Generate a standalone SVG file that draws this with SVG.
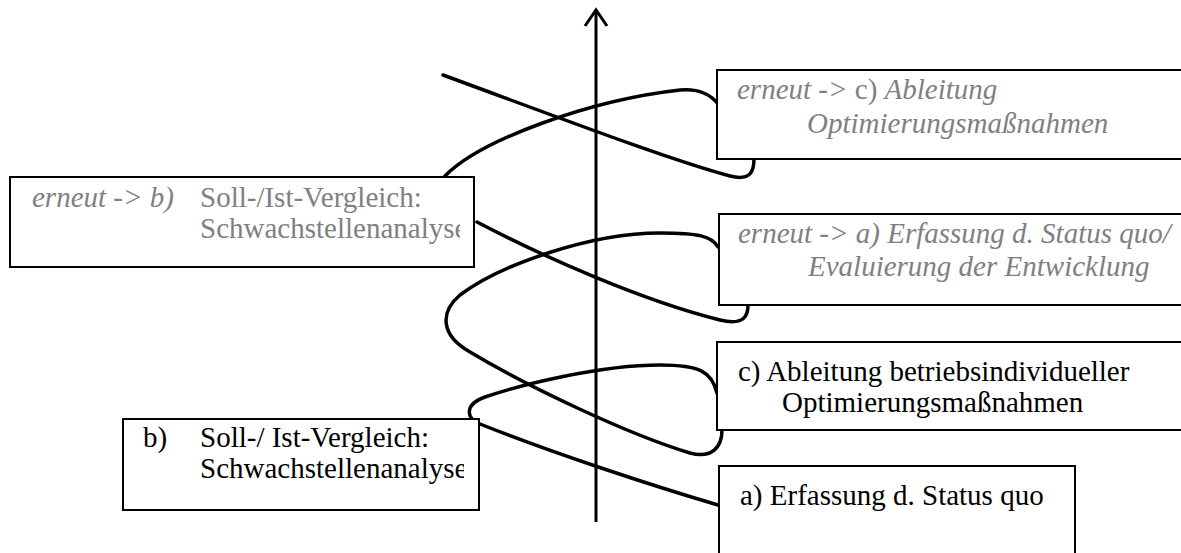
<svg xmlns="http://www.w3.org/2000/svg" width="1181" height="553" viewBox="0 0 1181 553">
<style>
.box{fill:#fff;stroke:#000;stroke-width:2}
.c{fill:none;stroke:#000;stroke-width:3.5;stroke-linecap:round;stroke-linejoin:round}
.ax{fill:none;stroke:#000;stroke-width:3}
text{font-family:"Liberation Serif","Times New Roman",serif;font-size:29px}
.g{fill:#808080}
.k{fill:#000}
.i{font-style:italic}
</style>
<defs>
<clipPath id="clipB2"><rect x="10" y="177" width="450" height="90"/></clipPath>
<clipPath id="clipB5"><rect x="123" y="419" width="341" height="91"/></clipPath>
</defs>
<g id="connectors">
<line class="ax" x1="596" y1="522" x2="596" y2="10"/>
<polyline class="ax" points="585,26 596,10 607,26"/>
<path class="c" d="M443,75 C560,118 670,160 730,176 C750,181 754,172 754,159"/>
<path class="c" d="M445,176 C480,140 590,100 680,90 C700,88 712,96 718,104"/>
<path class="c" d="M477,222 C540,255 640,300 720,320 C745,326 748,315 748,305"/>
<path class="c" d="M718,247 C712,236 698,233 660,233 C590,233 500,265 460,295 C440,312 440,335 470,352 C530,388 630,435 690,453 C712,459 722,447 722,430"/>
<path class="c" d="M717,393 C712,372 700,365 660,365 C600,365 520,385 485,397 C465,404 465,418 480,424 C550,452 650,485 718,505"/>
</g>
<g id="node-erneut-c">
<rect class="box" x="717" y="70" width="480" height="89"/>
<text x="737" y="99" class="g"><tspan class="i">erneut -&gt; </tspan>c) <tspan class="i">Ableitung</tspan></text>
<text x="807" y="133" class="g i">Optimierungsmaßnahmen</text>
</g>
<g id="node-erneut-b">
<rect class="box" x="10" y="177" width="464" height="90"/>
<g clip-path="url(#clipB2)">
<text x="32" y="207" class="g i">erneut -&gt; b)</text>
<text x="200" y="207" class="g">Soll-/Ist-Vergleich:</text>
<text x="200" y="238" class="g">Schwachstellenanalyse</text>
</g>
</g>
<g id="node-erneut-a">
<rect class="box" x="719" y="214" width="480" height="91"/>
<text x="738" y="243" class="g i">erneut -&gt; a) Erfassung d. Status quo/</text>
<text x="808" y="276" class="g i">Evaluierung der Entwicklung</text>
</g>
<g id="node-c">
<rect class="box" x="717" y="342" width="480" height="88"/>
<text x="738" y="381" class="k">c) Ableitung betriebsindividueller</text>
<text x="782" y="412" class="k">Optimierungsmaßnahmen</text>
</g>
<g id="node-b">
<rect class="box" x="123" y="419" width="356" height="91"/>
<g clip-path="url(#clipB5)">
<text x="143" y="447" class="k">b)</text>
<text x="200" y="447" class="k">Soll-/ Ist-Vergleich:</text>
<text x="200" y="478" class="k">Schwachstellenanalyse</text>
</g>
</g>
<g id="node-a">
<rect class="box" x="719" y="466" width="356" height="100"/>
<text x="740" y="505" class="k">a) Erfassung d. Status quo</text>
</g>
</svg>
